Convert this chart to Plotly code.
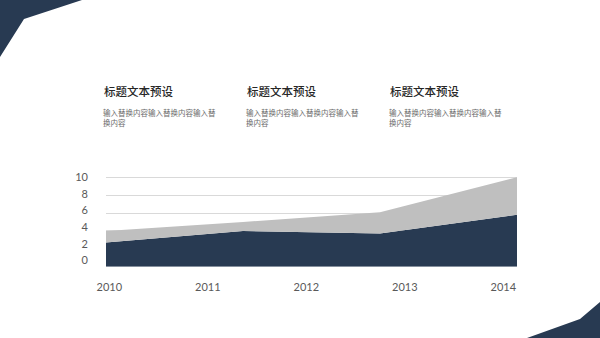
import plotly.graph_objects as go

# ---- data ----
years = ["2010", "2011", "2012", "2013", "2014"]
year_vals = [2010, 2011, 2012, 2013, 2014]
points = [0, 1, 2, 3]
series_dark = [2.7, 4.0, 3.7, 5.8]
series_light = [1.3, 1.0, 2.4, 4.2]
y_ticks = [0, 2, 4, 6, 8, 10]
titles = ["标题文本预设", "标题文本预设", "标题文本预设"]
body_text = "输入替换内容输入替换内容输入替<br>换内容"

NAVY = "#283a52"
GRAY = "#bfbfbf"
W, H = 600, 338

def px(x):
    return x / W

def py(y):
    return (H - y) / H

fig = go.Figure()
fig.add_trace(go.Scatter(
    x=points, y=series_dark, stackgroup="s", mode="none",
    fillcolor=NAVY, xaxis="x2", yaxis="y", hoverinfo="skip"))
fig.add_trace(go.Scatter(
    x=points, y=series_light, stackgroup="s", mode="none",
    fillcolor=GRAY, xaxis="x2", yaxis="y", hoverinfo="skip"))

shapes = [
    dict(type="path", xref="paper", yref="paper",
         path=f"M 0,1 L {px(82)},1 L {px(24)},{py(19)} L 0,{py(57)} Z",
         fillcolor=NAVY, line=dict(width=0), layer="above"),
    dict(type="path", xref="paper", yref="paper",
         path=f"M {px(527)},0 L {px(580)},{py(319)} L 1,{py(302)} L 1,0 Z",
         fillcolor=NAVY, line=dict(width=0), layer="above"),
]

annotations = []
for i, t in enumerate(titles):
    x0 = [102, 245, 388][i]
    annotations.append(dict(
        text=t, x=px(x0), y=py(91), xref="paper", yref="paper",
        xanchor="left", yanchor="middle", showarrow=False,
        font=dict(family="Noto Sans CJK SC", size=11.5, color="#262626",
                  weight=500)))
    annotations.append(dict(
        text=body_text, x=px(x0 - 1), y=py(105), xref="paper", yref="paper",
        xanchor="left", yanchor="top", showarrow=False, align="left",
        font=dict(family="Noto Sans CJK SC", size=7.5, color="#6b6b6b")))

fig.update_layout(
    template="none",
    width=W, height=H, margin=dict(l=0, r=0, t=0, b=0, pad=0),
    paper_bgcolor="white", plot_bgcolor="white", showlegend=False,
    shapes=shapes, annotations=annotations,
    xaxis2=dict(domain=[px(106), px(517)], range=[0, 3], anchor="y",
                showgrid=False, zeroline=False, showticklabels=False,
                showline=False, automargin=False, fixedrange=True),
    yaxis=dict(domain=[py(266.7), py(174.6)], range=[0, 10.3], anchor="x2",
               tickvals=y_ticks, showgrid=True, gridcolor="#d9d9d9",
               gridwidth=1, zeroline=False, showticklabels=False,
               showline=False, ticks="", automargin=False, fixedrange=True),
    xaxis=dict(domain=[px(109.3), px(503.3)], range=[2010, 2014],
               anchor="free", position=py(279),
               tickvals=year_vals, ticktext=years, showgrid=False,
               zeroline=False, showline=False, ticks="",
               tickfont=dict(family="Lato", size=11, color="#595959"),
               automargin=False, fixedrange=True),
    yaxis2=dict(domain=[py(260.5), py(177)], range=[0, 10], anchor="free",
                position=px(88), tickvals=y_ticks, showgrid=False,
                zeroline=False, showline=False, ticks="",
                tickfont=dict(family="Lato", size=11, color="#595959"),
                automargin=False, fixedrange=True),
)
# invisible trace so the label axes are drawn
fig.add_trace(go.Scatter(x=[2010], y=[0], xaxis="x", yaxis="y2",
                         mode="markers", marker=dict(opacity=0),
                         hoverinfo="skip"))

fig.write_html("out.html", config={"displayModeBar": False})
